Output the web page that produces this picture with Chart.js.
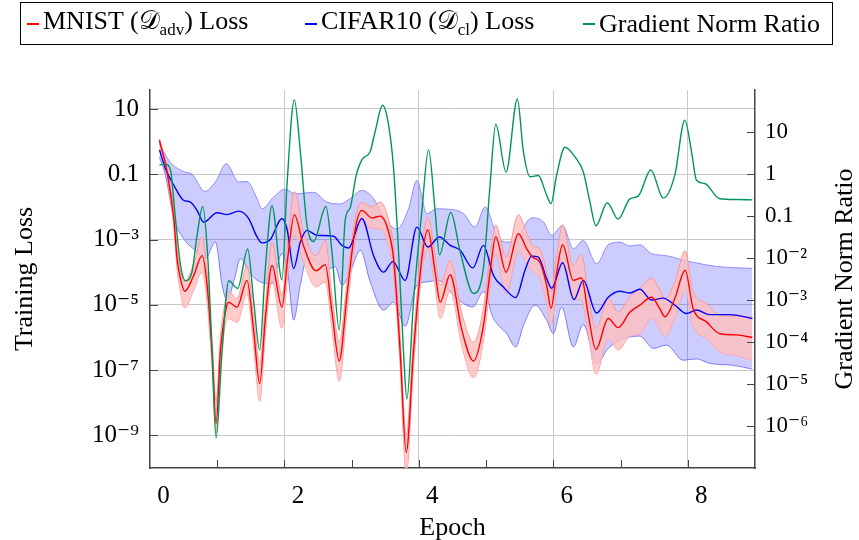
<!DOCTYPE html>
<html>
<head>
<meta charset="utf-8">
<script src="https://cdn.jsdelivr.net/npm/chart.js"></script>
<style>
  body { margin: 0; background: #fff; }
  #wrap { position: relative; width: 859px; height: 540px; }
  #legend {
    position: absolute; left: 20px; top: 2px; width: 813px; height: 43px;
    border: 1px solid #000; box-sizing: border-box; padding-left: 6px;
    display: flex; align-items: center;
    font-family: "Liberation Serif", serif; font-size: 26px; color: #000;
  }
  #legend .item { width: 278px; flex-shrink: 0; display: flex; align-items: center; white-space: nowrap; }
  #legend .item:last-child { width: auto; }
  #legend .swatch { width: 12px; height: 2px; margin-right: 4px; }
  #legend sub { font-size: 17px; }
</style>
</head>
<body>
<div id="wrap">
  <canvas id="lossChart" width="859" height="540"></canvas>
  <div id="legend"></div>
</div>
<script>
/** datos */
const seriesLabels = ['MNIST (𝒟_adv) Loss', 'CIFAR10 (𝒟_cl) Loss', 'Gradient Norm Ratio']

const mnistEpoch = [-0.06, 0.055, 0.154, 0.203, 0.253, 0.317, 0.45, 0.575, 0.649, 0.723, 0.783, 0.847, 0.921, 0.971, 1.095, 1.243, 1.343, 1.431, 1.516, 1.615, 1.763, 1.848, 1.947, 2.085, 2.27, 2.407, 2.506, 2.615, 2.73, 2.853, 2.952, 3.10, 3.225, 3.35, 3.423, 3.522, 3.611, 3.72, 3.844, 3.933, 4.042, 4.116, 4.265, 4.438, 4.612, 4.76, 4.859, 4.943, 5.097, 5.28, 5.404, 5.49, 5.602, 5.70, 5.765, 5.85, 5.938, 6.097, 6.22, 6.32, 6.433, 6.617, 6.765, 6.94, 7.087, 7.26, 7.384, 7.46, 7.607, 7.761, 7.88, 8.078, 8.276, 8.524, 8.761]
const mnistLoss = [1.1, 0.115, 4.4e-3, 2.5e-4, 6.3e-5, 2.6e-5, 7.9e-5, 3.2e-4, 4.0e-5, 3.6e-7, 2.3e-9, 3.6e-7, 6.0e-6, 1.2e-5, 8.5e-6, 5.6e-5, 1.5e-6, 3.9e-8, 3.8e-6, 1.6e-4, 8.5e-6, 2.6e-4, 5.8e-3, 6.3e-4, 1.1e-4, 1.7e-4, 6.3e-6, 1.9e-7, 1.95e-5, 2.1e-3, 7.8e-3, 4.6e-3, 5.2e-3, 1.7e-3, 2.6e-4, 3.6e-7, 3.0e-10, 3.6e-7, 2.6e-4, 2.0e-3, 1.0e-4, 1.2e-5, 8.3e-5, 1.7e-6, 1.9e-7, 2.3e-6, 1.0e-4, 1.2e-3, 1.0e-4, 1.5e-3, 5.2e-4, 2.9e-4, 2.0e-4, 4.0e-5, 7.8e-6, 1.0e-4, 6.9e-4, 5.6e-5, 6.6e-5, 4.8e-6, 4.3e-7, 3.8e-6, 2.0e-6, 6.0e-6, 9.8e-6, 1.7e-5, 7.6e-6, 4.3e-6, 1.55e-5, 1.15e-4, 7.6e-6, 3.0e-6, 1.3e-6, 1.2e-6, 1.0e-6]
const mnistLossHi = [1.2, 0.16, 7.1e-3, 5.0e-4, 1.1e-4, 5.2e-5, 1.8e-4, 1.2e-3, 1.0e-4, 1.0e-6, 1.07e-8, 1.0e-6, 1.26e-5, 2.5e-5, 1.55e-5, 1.6e-4, 4.0e-6, 1.6e-7, 1.0e-5, 8.3e-4, 1.95e-5, 7.9e-4, 2.95e-2, 1.7e-3, 3.2e-4, 9.3e-4, 2.0e-5, 7.2e-7, 5.0e-5, 4.5e-3, 1.35e-2, 1.0e-2, 1.4e-2, 4.0e-3, 6.3e-4, 1.0e-6, 1.0e-9, 1.0e-6, 6.3e-4, 4.9e-3, 3.2e-4, 4.0e-5, 2.3e-4, 5.6e-6, 7.2e-7, 7.9e-6, 3.2e-4, 2.8e-3, 2.9e-4, 5.8e-3, 1.6e-3, 6.6e-4, 5.0e-4, 1.0e-4, 2.5e-5, 3.2e-4, 2.8e-3, 1.6e-4, 3.5e-4, 2.0e-5, 1.9e-6, 1.55e-5, 6.0e-6, 1.8e-5, 3.2e-5, 6.6e-5, 2.8e-5, 1.55e-5, 5.0e-5, 4.5e-4, 2.5e-5, 1.1e-5, 4.8e-6, 4.5e-6, 4.3e-6]
const mnistLossLo = [1.0, 0.089, 2.5e-3, 1.26e-4, 2.5e-5, 7.9e-6, 2.8e-5, 1.0e-4, 1.26e-5, 1.26e-7, 1.15e-9, 1.26e-7, 2.5e-6, 3.8e-6, 2.9e-6, 2.2e-5, 5.0e-7, 1.1e-8, 1.26e-6, 5.6e-5, 1.9e-6, 7.9e-5, 1.35e-3, 2.0e-4, 3.5e-5, 5.0e-5, 2.0e-6, 4.6e-8, 6.3e-6, 1.0e-3, 3.4e-3, 2.2e-3, 2.1e-3, 6.3e-4, 1.0e-4, 1.26e-7, 6.3e-11, 1.26e-7, 1.0e-4, 5.2e-4, 3.5e-5, 3.8e-6, 2.75e-5, 5.6e-7, 5.8e-8, 7.9e-7, 3.5e-5, 3.7e-4, 2.2e-5, 4.2e-4, 1.8e-4, 1.0e-4, 6.3e-5, 1.1e-5, 2.3e-6, 3.2e-5, 2.0e-4, 1.55e-5, 1.4e-5, 1.26e-6, 7.4e-8, 9.3e-7, 4.1e-7, 1.1e-6, 1.3e-6, 3.8e-6, 1.8e-6, 1.05e-6, 4.0e-6, 2.75e-5, 2.2e-6, 9.3e-7, 3.6e-7, 2.8e-7, 2.0e-7]

const cifarEpoch = [-0.059, 0.03, 0.154, 0.302, 0.401, 0.50, 0.599, 0.798, 0.946, 1.12, 1.268, 1.392, 1.466, 1.59, 1.763, 1.838, 1.937, 2.036, 2.135, 2.283, 2.531, 2.655, 2.754, 2.952, 3.126, 3.274, 3.413, 3.596, 3.77, 3.933, 4.106, 4.265, 4.413, 4.602, 4.76, 4.909, 5.057, 5.24, 5.379, 5.478, 5.577, 5.70, 5.776, 5.938, 6.107, 6.245, 6.443, 6.617, 6.79, 6.939, 7.087, 7.26, 7.434, 7.607, 7.78, 7.929, 8.127, 8.425, 8.761]
const cifarLoss = [0.56, 0.148, 0.046, 0.0158, 0.0141, 7.8e-3, 3.4e-3, 6.6e-3, 5.8e-3, 7.4e-3, 4.4e-3, 1.2e-3, 7.9e-4, 1.0e-3, 4.4e-3, 2.1e-3, 1.3e-4, 8.3e-4, 1.9e-3, 1.35e-3, 1.26e-3, 6.6e-4, 5.5e-4, 4.4e-3, 3.2e-4, 1.0e-4, 2.1e-4, 5.6e-5, 2.4e-3, 5.9e-4, 1.2e-3, 6.6e-4, 4.7e-4, 1.35e-4, 6.6e-4, 7.9e-5, 3.5e-5, 1.66e-5, 1.15e-4, 3.1e-4, 2.9e-4, 6.3e-5, 3.2e-5, 1.95e-4, 1.45e-5, 5.6e-5, 5.6e-6, 1.7e-5, 2.6e-5, 2.3e-5, 3.0e-5, 1.4e-5, 1.6e-5, 9.8e-6, 5.4e-6, 6.9e-6, 5.0e-6, 5.0e-6, 3.8e-6]
const cifarHiEpoch = [-0.059, 0.104, 0.302, 0.426, 0.614, 0.773, 0.936, 1.12, 1.243, 1.392, 1.466, 1.64, 1.813, 1.961, 2.234, 2.432, 2.63, 2.779, 2.952, 3.126, 3.274, 3.472, 3.646, 3.77, 3.918, 4.067, 4.29, 4.463, 4.636, 4.785, 4.958, 5.107, 5.255, 5.478, 5.65, 5.776, 5.938, 6.097, 6.245, 6.443, 6.617, 6.79, 6.939, 7.087, 7.26, 7.483, 7.68, 7.88, 8.226, 8.761]
const cifarLossHi = [0.83, 0.23, 0.12, 0.10, 0.030, 0.058, 0.21, 0.058, 0.060, 0.018, 8.7e-3, 0.020, 0.035, 0.025, 0.028, 0.014, 0.0123, 0.018, 0.032, 0.018, 4.9e-3, 2.1e-3, 8.7e-3, 0.065, 6.2e-3, 8.7e-3, 8.3e-3, 6.2e-3, 2.4e-3, 0.010, 1.35e-3, 8.3e-4, 1.07e-3, 4.6e-3, 3.5e-3, 1.35e-3, 2.7e-3, 5.2e-4, 9.3e-4, 1.8e-4, 6.9e-4, 8.3e-4, 6.3e-4, 6.9e-4, 3.7e-4, 3.2e-4, 2.5e-4, 2.0e-4, 1.5e-4, 1.3e-4]
const cifarLoEpoch = [-0.059, 0.03, 0.154, 0.302, 0.50, 0.624, 0.773, 0.872, 0.946, 1.07, 1.144, 1.293, 1.466, 1.615, 1.763, 1.848, 1.937, 2.036, 2.135, 2.283, 2.407, 2.556, 2.655, 2.779, 2.928, 3.076, 3.274, 3.423, 3.596, 3.77, 3.918, 4.091, 4.265, 4.463, 4.602, 4.76, 4.909, 5.107, 5.24, 5.355, 5.528, 5.70, 5.80, 5.923, 6.097, 6.245, 6.443, 6.617, 6.79, 7.087, 7.286, 7.483, 7.73, 7.929, 8.127, 8.474, 8.761]
const cifarLossLo = [0.33, 0.091, 4.4e-3, 1.05e-3, 4.2e-4, 2.6e-4, 8.3e-4, 4.0e-5, 1.4e-5, 7.9e-5, 2.6e-4, 8.9e-5, 4.8e-5, 4.5e-5, 3.7e-4, 1.0e-4, 3.4e-6, 4.0e-5, 2.6e-4, 2.0e-4, 1.15e-4, 1.45e-4, 4.0e-5, 1.0e-4, 4.7e-4, 5.0e-5, 6.8e-6, 1.2e-5, 2.2e-6, 4.0e-5, 5.0e-5, 5.6e-5, 2.5e-5, 1.1e-5, 8.5e-6, 2.5e-5, 3.8e-6, 1.3e-6, 5.1e-7, 2.3e-6, 9.8e-6, 3.4e-6, 1.3e-6, 8.5e-6, 5.1e-7, 2.5e-6, 1.6e-7, 4.6e-7, 8.3e-7, 1.1e-6, 4.6e-7, 5.8e-7, 2.0e-7, 2.2e-7, 1.6e-7, 1.4e-7, 1.07e-7]

const gradEpoch = [-0.059, 0.03, 0.104, 0.178, 0.253, 0.327, 0.426, 0.50, 0.585, 0.66, 0.723, 0.783, 0.872, 0.971, 1.105, 1.253, 1.343, 1.431, 1.516, 1.615, 1.763, 1.838, 1.947, 2.036, 2.135, 2.234, 2.417, 2.506, 2.615, 2.704, 2.779, 2.865, 2.952, 3.076, 3.15, 3.26, 3.349, 3.423, 3.497, 3.571, 3.621, 3.72, 3.844, 3.943, 4.042, 4.106, 4.275, 4.413, 4.612, 4.76, 4.859, 4.943, 5.097, 5.265, 5.354, 5.454, 5.577, 5.70, 5.766, 5.849, 5.973, 6.121, 6.245, 6.344, 6.433, 6.602, 6.765, 6.939, 7.062, 7.251, 7.434, 7.607, 7.756, 7.855, 7.929, 8.053, 8.276, 8.524, 8.761]
const gradRatio = [1.66, 1.74, 1.26, 0.089, 6.9e-3, 2.9e-3, 4.8e-3, 0.035, 0.17, 0.01, 5.9e-5, 5.2e-7, 5.9e-5, 2.9e-3, 1.9e-3, 0.0166, 9.3e-4, 6.5e-5, 5.8e-3, 0.178, 3.0e-3, 0.56, 59, 3.5, 0.062, 0.025, 0.17, 0.0145, 1.95e-4, 0.081, 0.16, 0.9, 2.2, 3.5, 10.5, 44, 15, 1.4, 0.0145, 5.9e-5, 4.4e-6, 9.3e-4, 0.13, 3.8, 0.13, 0.012, 0.123, 0.0145, 1.45e-3, 5.8e-3, 0.56, 15.5, 1.12, 62, 3.5, 0.87, 0.93, 0.32, 0.20, 0.95, 4.4, 2.6, 1.15, 0.22, 0.059, 0.21, 0.085, 0.26, 0.30, 1.26, 0.27, 0.95, 19.5, 3.5, 0.72, 0.60, 0.26, 0.25, 0.245]

/** ticks de los ejes */
const epochTicks = [0, 2, 4, 6, 8]
const lossTicks = [1e-9, 1e-7, 1e-5, 1e-3, 0.1, 10]
const lossTickLabels = ['10⁻⁹', '10⁻⁷', '10⁻⁵', '10⁻³', '0.1', '10']
const ratioTicks = [1e-6, 1e-5, 1e-4, 1e-3, 1e-2, 0.1, 1, 10]
const ratioTickLabels = ['10⁻⁶', '10⁻⁵', '10⁻⁴', '10⁻³', '10⁻²', '0.1', '1', '10']

/** colores */
const red = 'rgb(255,0,0)'
const blue = 'rgb(0,0,255)'
const green = 'rgb(0,150,90)'
const serif = '"Liberation Serif", "DejaVu Serif", serif'
const axisColor = '#444'
const gridColor = '#c8c8c8'

function pts(xs, ys) {
  return xs.map((x, i) => ({ x: x, y: ys[i] }))
}

function line(label, xs, ys, axis, color, width, fill, bg) {
  return {
    label: label, data: pts(xs, ys), yAxisID: axis, xAxisID: 'x',
    borderColor: color, borderWidth: width, pointRadius: 0,
    cubicInterpolationMode: 'monotone', fill: fill, backgroundColor: bg || 'transparent'
  }
}

/** marcas de ticks hacia adentro y titulo del eje derecho */
const axisExtras = {
  id: 'axisExtras',
  afterDatasetsDraw(chart) {
    const ctx = chart.ctx
    const a = chart.chartArea
    const s = chart.scales
    ctx.save()
    ctx.strokeStyle = axisColor
    ctx.lineWidth = 1
    ctx.beginPath()
    s.y.ticks.forEach(t => {
      const p = Math.round(s.y.getPixelForValue(t.value)) + 0.5
      ctx.moveTo(a.left, p); ctx.lineTo(a.left + 8, p)
    })
    s.y2.ticks.forEach(t => {
      const p = Math.round(s.y2.getPixelForValue(t.value)) + 0.5
      ctx.moveTo(a.right - 8, p); ctx.lineTo(a.right, p)
    })
    s.xg.ticks.forEach(t => {
      const p = Math.round(s.xg.getPixelForValue(t.value)) + 0.5
      ctx.moveTo(p, a.bottom); ctx.lineTo(p, a.bottom - 8)
    })
    ctx.stroke()
    ctx.restore()
  },
  afterDraw(chart) {
    const ctx = chart.ctx
    const a = chart.chartArea
    ctx.save()
    ctx.fillStyle = '#000'
    ctx.font = '26px ' + serif
    ctx.textAlign = 'center'
    ctx.textBaseline = 'middle'
    ctx.translate(chart.width - 14, (a.top + a.bottom) / 2)
    ctx.rotate(-Math.PI / 2)
    ctx.fillText(seriesLabels[2], 0, 0)
    ctx.restore()
  }
}

const ctx = document.getElementById('lossChart').getContext('2d')
const lossChart = new Chart(ctx, {
  type: 'line',
  data: {
    datasets: [
      line(seriesLabels[2].replace('_', ''), gradEpoch, gradRatio, 'y2', green, 1.4, false),
      line(seriesLabels[0].replace('_', ''), mnistEpoch, mnistLoss, 'y', red, 1.4, false),
      line(seriesLabels[1].replace('_', ''), cifarEpoch, cifarLoss, 'y', blue, 1.4, false),
      line('MNIST upper', mnistEpoch, mnistLossHi, 'y', 'rgb(255,150,150)', 1, '+1', 'rgba(255,190,190,0.8)'),
      line('MNIST lower', mnistEpoch, mnistLossLo, 'y', 'rgb(255,150,150)', 1, false),
      line('CIFAR upper', cifarHiEpoch, cifarLossHi, 'y', 'rgb(140,140,255)', 1, '+1', 'rgba(0,0,255,0.2)'),
      line('CIFAR lower', cifarLoEpoch, cifarLossLo, 'y', 'rgb(140,140,255)', 1, false)
    ]
  },
  options: {
    responsive: false,
    animation: false,
    layout: { padding: { top: 90 } },
    plugins: { legend: { display: false }, tooltip: { enabled: false } },
    scales: {
      x: {
        type: 'linear', position: 'bottom', min: -0.2, max: 8.8,
        afterBuildTicks: sc => { sc.ticks = epochTicks.map(v => ({ value: v })) },
        afterFit: sc => { sc.height = 72 },
        grid: { display: false },
        border: { display: true, color: axisColor, width: 1.5 },
        ticks: { color: '#000', font: { family: serif, size: 25 }, padding: 5, autoSkip: false, maxRotation: 0 },
        title: { display: true, text: 'Epoch', color: '#000', font: { family: serif, size: 26 }, padding: { top: 0, bottom: -4 } }
      },
      xg: {
        type: 'linear', position: 'bottom', min: -0.2, max: 8.8,
        afterBuildTicks: sc => {
          const t = []
          for (let v = 0.8; v < 8.8; v += 1) t.push({ value: v })
          sc.ticks = t
        },
        afterFit: sc => { sc.height = 0 },
        ticks: { display: false },
        border: { display: false },
        grid: {
          drawTicks: false,
          color: c => (Math.round(c.tick.value - 0.8) % 2 === 1 ? gridColor : 'rgba(0,0,0,0)')
        }
      },
      y: {
        type: 'logarithmic', position: 'left', min: 1e-10, max: 38.1,
        afterBuildTicks: sc => { sc.ticks = lossTicks.map(v => ({ value: v })) },
        afterFit: sc => { sc.width = 150 },
        grid: { color: gridColor, drawTicks: false },
        border: { display: true, color: axisColor, width: 1.5 },
        ticks: {
          color: '#000', font: { family: serif, size: 25 }, padding: 11, autoSkip: false,
          callback: v => lossTickLabels[lossTicks.indexOf(v)]
        },
        title: { display: true, text: 'Training Loss', color: '#000', font: { family: serif, size: 26 }, padding: { top: 10 } }
      },
      y2: {
        type: 'logarithmic', position: 'right', min: 1e-7, max: 101.7,
        afterBuildTicks: sc => { sc.ticks = ratioTicks.map(v => ({ value: v })) },
        afterFit: sc => { sc.width = 104 },
        grid: { drawOnChartArea: false, drawTicks: false },
        border: { display: true, color: axisColor, width: 1.5 },
        ticks: {
          color: '#000', font: { family: serif, size: 23 }, padding: 10, autoSkip: false,
          callback: v => ratioTickLabels[ratioTicks.indexOf(v)]
        }
      }
    }
  },
  plugins: [axisExtras]
})

/** leyenda en html para poder usar subindices */
const legendBox = document.getElementById('legend')
const legendColors = [red, blue, green]
seriesLabels.forEach((name, i) => {
  const item = document.createElement('div')
  item.className = 'item'
  const sw = document.createElement('span')
  sw.className = 'swatch'
  sw.style.background = legendColors[i]
  const txt = document.createElement('span')
  txt.innerHTML = name.replace(/_(\w+)/, '<sub>$1</sub>')
  item.appendChild(sw)
  item.appendChild(txt)
  legendBox.appendChild(item)
})
</script>
</body>
</html>
